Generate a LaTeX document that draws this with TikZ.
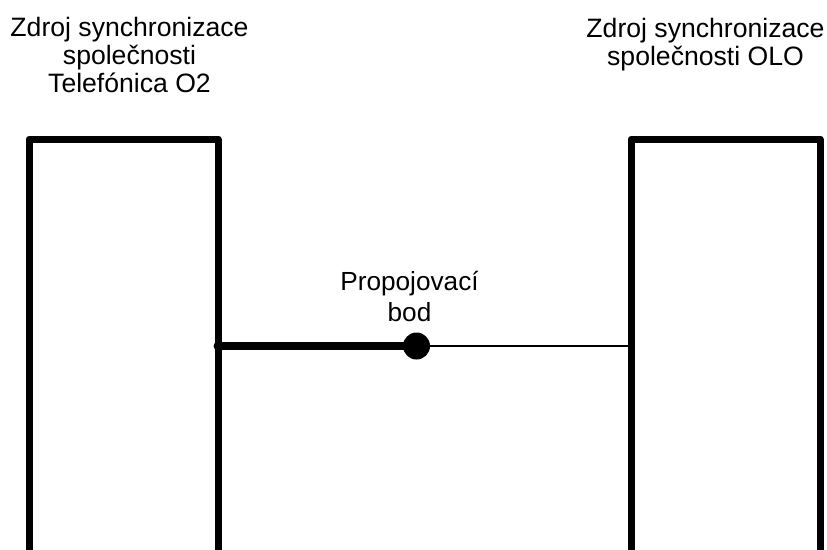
\documentclass[tikz,border=0pt]{standalone}
\usepackage{fontspec}
\setmainfont{Liberation Sans}
\usepackage{tikz}
\usetikzlibrary{positioning}
\tikzstyle{source} = [rectangle, minimum width=189pt, minimum height=461pt, draw=black, line width=7pt, line join=round]
\tikzstyle{label1} = [inner sep=0pt, align=center, font=\fontsize{26.6}{28.3}\selectfont]
\tikzstyle{joint} = [circle, fill=black, inner sep=0pt, minimum size=27pt]
\tikzstyle{trunk} = [line width=8pt, line cap=round]
\tikzstyle{link} = [line width=1.3pt]

\begin{document}
\begin{tikzpicture}[x=1pt, y=-1pt]
\useasboundingbox (0,0) rectangle (827,549);
\node (o2) [source] at (123.5,369.5) {};
\node (olo) [source] at (725.5,369.5) {};
\node (o2txt) [label1, anchor=south] at (129.5,93.3) {Zdroj synchronizace\\společnosti\\Telefónica O2};
\node (olotxt) [label1, anchor=north] at (705.5,17.8) {Zdroj synchronizace\\společnosti OLO};
\node (bod) [joint] at (416.5,346) {};
\node (bodtxt) [label1, anchor=south, font=\fontsize{26.2}{31}\selectfont] at (409.5,321.7) {Propojovací\\bod};

\draw[trunk] (o2.east |- bod) ++(-4,0) -- (bod.center);
\draw[link] (bod) -- (olo.west |- bod);
\end{tikzpicture}
\end{document}
